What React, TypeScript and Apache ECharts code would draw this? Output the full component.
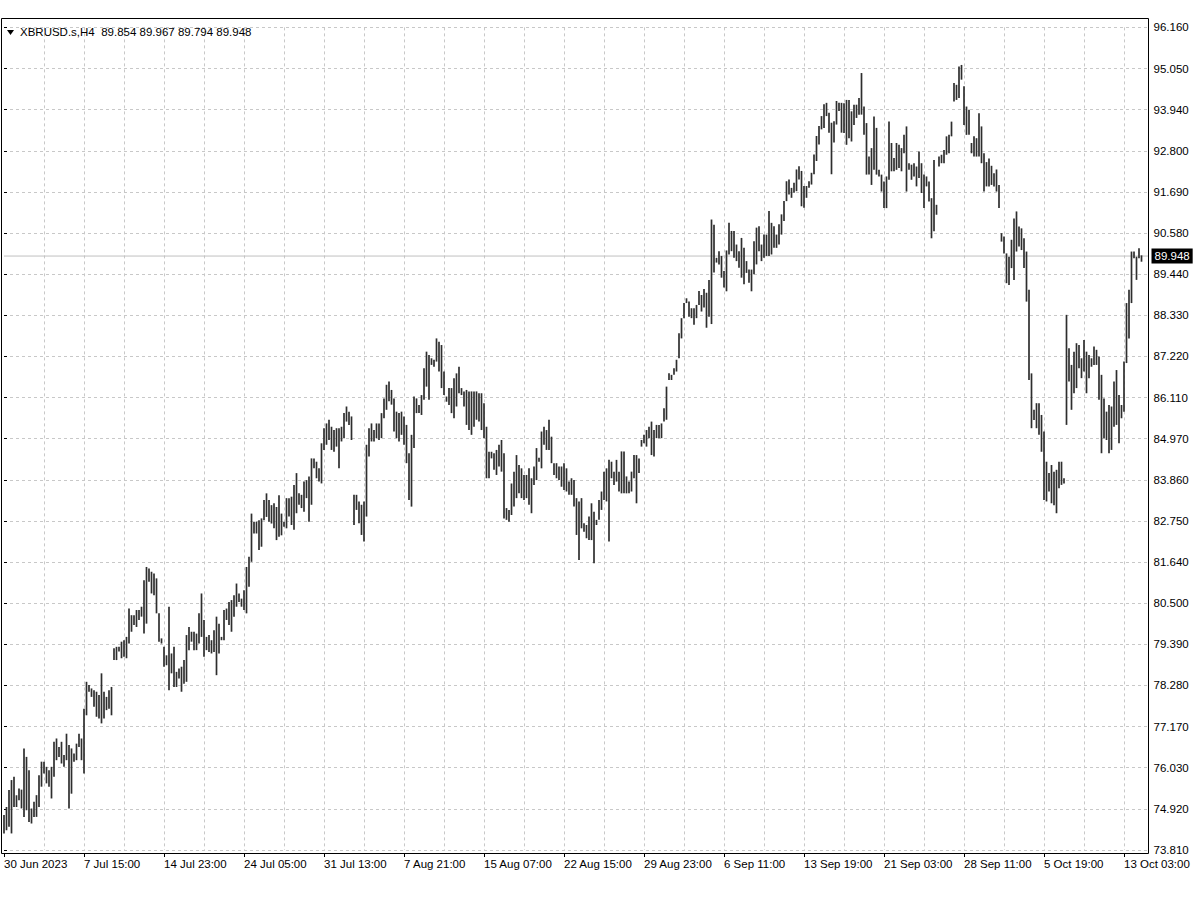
import React, { useEffect, useRef } from 'react';
import * as echarts from 'echarts';

const symbolTitle = 'XBRUSD.s,H4';
const lastOHLC = [89.854, 89.967, 89.794, 89.948];

const priceLabels = [
  '73.810', '74.920', '76.030', '77.170', '78.280', '79.390', '80.500',
  '81.640', '82.750', '83.860', '84.970', '86.110', '87.220', '88.330',
  '89.440', '90.580', '91.690', '92.800', '93.940', '95.050', '96.160',
];
const priceMin = 73.81;
const priceMax = 96.16;

const dateLabels = [
  '30 Jun 2023', '7 Jul 15:00', '14 Jul 23:00', '24 Jul 05:00', '31 Jul 13:00',
  '7 Aug 21:00', '15 Aug 07:00', '22 Aug 15:00', '29 Aug 23:00', '6 Sep 11:00',
  '13 Sep 19:00', '21 Sep 03:00', '28 Sep 11:00', '5 Oct 19:00', '13 Oct 03:00',
];
const barsPerLabel = 32;

// H4 bar highs
const highs: number[] = [
  74.76, 74.98, 75.44, 75.71, 75.80, 75.30, 75.48, 75.45, 76.57, 76.34,
  75.98, 74.94, 75.12, 75.30, 75.84, 76.21, 76.21, 76.07, 75.98, 76.07,
  76.75, 76.84, 76.61, 76.75, 76.39, 76.97, 76.66, 76.57, 76.43, 76.70,
  76.97, 76.84, 77.65, 78.38, 78.29, 78.20, 78.15, 78.11, 78.02, 78.61,
  78.11, 77.97, 78.15, 78.24, 79.29, 79.33, 79.33, 79.47, 79.51, 79.60,
  80.37, 80.19, 80.19, 80.33, 80.33, 80.42, 81.14, 81.50, 81.46, 81.37,
  81.32, 81.19, 80.24, 79.56, 79.33, 79.10, 80.42, 79.15, 79.33, 78.65,
  78.74, 78.79, 78.97, 79.65, 79.87, 79.74, 79.74, 79.69, 80.24, 80.78,
  80.06, 79.60, 79.65, 79.51, 79.78, 80.15, 79.96, 79.60, 80.33, 80.37,
  80.55, 80.60, 80.73, 81.05, 80.78, 80.64, 80.87, 81.50, 81.78, 82.95,
  82.73, 82.73, 82.77, 82.82, 83.32, 83.50, 83.32, 83.18, 83.23, 83.13,
  83.45, 82.95, 82.73, 83.37, 83.37, 83.41, 83.73, 84.05, 83.50, 83.46,
  83.82, 83.86, 83.96, 84.45, 84.45, 84.36, 84.18, 84.86, 85.27, 85.40,
  85.50, 85.31, 85.22, 85.27, 85.27, 85.31, 85.68, 85.86, 85.72, 85.59,
  83.46, 83.46, 83.28, 83.19, 83.28, 84.82, 85.27, 85.40, 85.22, 85.40,
  85.40, 85.68, 86.08, 86.45, 86.54, 86.31, 86.08, 85.72, 85.68, 85.72,
  85.59, 85.36, 84.59, 85.09, 86.13, 86.08, 85.90, 86.17, 86.90, 87.35,
  87.26, 87.17, 87.13, 87.71, 87.62, 87.53, 86.81, 86.13, 86.36, 86.36,
  86.63, 86.76, 86.94, 86.36, 86.27, 86.31, 86.27, 86.27, 86.27, 86.27,
  86.22, 86.22, 85.95, 85.31, 84.63, 84.63, 84.59, 84.68, 84.82, 84.95,
  84.59, 83.10, 83.05, 83.77, 84.09, 84.54, 84.27, 84.18, 84.00, 84.00,
  84.18, 83.91, 84.23, 84.73, 84.47, 85.18, 85.31, 85.22, 85.50, 85.04,
  84.32, 84.32, 84.23, 84.23, 84.32, 84.18, 83.82, 83.91, 83.86, 83.37,
  83.28, 83.37, 82.69, 82.64, 82.87, 83.23, 83.00, 82.78, 83.32, 83.55,
  84.09, 84.18, 84.41, 84.36, 84.09, 84.41, 84.09, 84.64, 84.64, 83.96,
  83.82, 84.09, 84.54, 84.54, 84.45, 84.95, 85.09, 85.22, 85.31, 85.45,
  85.22, 85.36, 85.36, 85.40, 85.81, 86.40, 86.76, 86.72, 86.90, 87.13,
  87.85, 88.26, 88.67, 88.80, 88.71, 88.53, 88.53, 88.62, 89.00, 88.89,
  89.05, 88.95, 89.30, 90.94, 90.80, 89.90, 90.08, 89.95, 89.54, 90.10,
  90.85, 90.63, 90.63, 90.26, 90.08, 90.44, 90.17, 89.81, 89.58, 89.58,
  90.35, 90.72, 90.76, 90.26, 90.53, 90.53, 91.17, 90.85, 90.76, 90.53,
  90.81, 91.08, 91.44, 91.98, 92.03, 91.80, 91.94, 92.30, 92.39, 92.26,
  91.85, 91.85, 91.98, 92.21, 92.71, 93.21, 93.48, 93.75, 94.07, 94.11,
  93.84, 93.57, 93.61, 94.16, 94.11, 94.11, 94.10, 94.19, 94.19, 93.88,
  94.06, 94.06, 94.24, 94.92, 94.01, 93.56, 92.65, 92.88, 93.74, 93.43,
  92.29, 92.16, 91.97, 92.11, 93.60, 93.02, 92.61, 93.02, 92.97, 92.88,
  93.24, 93.47, 92.47, 92.43, 92.47, 92.38, 92.79, 92.47, 92.16, 92.11,
  91.97, 91.52, 92.56, 91.34, 92.65, 92.70, 92.83, 93.20, 93.24, 93.60,
  94.65, 94.60, 95.10, 95.14, 94.56, 94.01, 93.92, 93.02, 93.20, 93.15,
  93.83, 93.47, 92.74, 92.50, 92.60, 92.40, 92.20, 92.30, 91.88, 90.57,
  90.48, 90.02, 89.93, 90.39, 90.97, 91.16, 90.75, 90.70, 90.43, 90.07,
  89.03, 86.76, 85.77, 85.95, 85.95, 85.63, 85.18, 84.36, 84.05, 84.27,
  84.09, 84.14, 84.36, 84.36, 83.91, 88.35, 87.44, 86.99, 87.35, 87.58,
  87.53, 87.17, 87.67, 87.35, 87.26, 87.17, 87.49, 87.40, 87.22, 86.72,
  86.08, 85.72, 85.90, 85.86, 86.54, 86.85, 86.17, 85.90, 87.08, 88.67,
  89.03, 90.07, 90.07, 89.93, 90.16, 89.967,
];

// H4 bar lows
const lows: number[] = [
  74.26, 74.35, 74.44, 74.26, 74.98, 74.98, 75.16, 74.94, 74.71, 74.89,
  74.57, 74.53, 74.71, 74.71, 74.98, 75.53, 75.89, 75.62, 75.53, 75.21,
  75.80, 76.25, 76.34, 76.16, 76.07, 76.25, 74.94, 75.34, 76.21, 76.25,
  76.61, 76.25, 75.89, 77.47, 78.11, 77.97, 77.70, 77.43, 77.38, 77.25,
  77.38, 77.61, 77.65, 77.47, 78.97, 78.97, 79.20, 79.02, 79.06, 79.02,
  79.42, 79.74, 79.92, 79.87, 80.06, 80.15, 79.69, 79.96, 81.10, 80.78,
  80.73, 80.24, 79.47, 79.42, 78.79, 78.83, 78.15, 78.61, 78.24, 78.24,
  78.47, 78.11, 78.33, 78.38, 79.24, 79.47, 79.24, 79.24, 79.42, 79.60,
  79.06, 79.24, 79.19, 79.15, 79.19, 78.56, 79.15, 79.51, 79.51, 80.06,
  79.92, 79.74, 80.15, 80.42, 80.55, 80.42, 80.33, 80.24, 80.96, 81.64,
  82.41, 82.41, 81.96, 82.05, 82.77, 82.86, 82.73, 82.68, 82.55, 82.23,
  82.32, 82.36, 82.59, 82.55, 82.87, 82.64, 82.51, 82.96, 83.19, 83.10,
  83.00, 83.37, 82.73, 83.19, 84.18, 83.91, 83.82, 83.77, 84.68, 84.82,
  84.95, 84.68, 84.63, 84.77, 84.18, 84.91, 85.00, 85.45, 85.36, 84.95,
  82.64, 83.05, 82.69, 82.37, 82.19, 82.87, 84.50, 84.91, 84.91, 85.00,
  84.95, 85.00, 85.54, 85.77, 86.00, 85.91, 85.18, 85.00, 84.91, 85.09,
  84.82, 84.32, 83.32, 83.14, 84.73, 85.68, 85.68, 85.63, 86.04, 86.40,
  86.04, 86.99, 86.94, 87.08, 86.81, 86.36, 86.17, 85.99, 85.90, 85.68,
  85.54, 85.86, 86.22, 86.17, 85.86, 85.36, 85.22, 85.09, 85.31, 85.50,
  85.45, 85.22, 85.00, 83.91, 83.91, 84.45, 84.14, 84.00, 84.23, 84.09,
  82.82, 82.78, 82.73, 82.91, 83.14, 83.37, 83.50, 83.37, 83.32, 83.37,
  83.19, 82.96, 83.73, 83.86, 84.36, 84.18, 84.82, 84.68, 84.68, 84.32,
  84.00, 83.91, 83.86, 83.68, 83.59, 83.55, 83.46, 83.46, 83.14, 82.37,
  81.69, 82.55, 82.46, 82.28, 82.23, 82.23, 81.60, 82.64, 82.78, 83.05,
  83.32, 83.28, 82.19, 83.91, 83.73, 83.82, 83.55, 83.50, 83.50, 83.50,
  83.50, 83.55, 83.91, 83.23, 84.05, 84.77, 84.86, 84.77, 85.00, 84.54,
  84.50, 85.00, 85.00, 85.00, 85.45, 85.50, 86.58, 86.58, 86.72, 86.81,
  87.17, 87.71, 88.26, 88.67, 88.30, 88.26, 88.08, 88.26, 88.62, 88.44,
  88.55, 88.00, 88.30, 88.10, 89.50, 89.77, 89.72, 89.36, 89.09, 88.99,
  89.99, 90.08, 89.90, 89.81, 89.63, 89.36, 89.18, 89.49, 89.22, 88.99,
  89.45, 89.72, 90.08, 89.81, 89.90, 89.95, 89.95, 89.99, 90.17, 90.17,
  90.26, 90.53, 90.90, 91.44, 91.62, 91.53, 91.67, 91.71, 92.03, 91.30,
  91.26, 91.53, 91.80, 91.89, 92.17, 92.53, 92.98, 93.39, 93.43, 93.75,
  93.30, 92.17, 93.03, 93.52, 93.89, 93.30, 93.29, 92.97, 93.15, 93.06,
  93.51, 93.70, 93.79, 93.79, 93.24, 92.16, 92.16, 91.88, 92.29, 92.16,
  92.11, 91.70, 91.25, 91.25, 92.02, 92.25, 92.25, 92.29, 92.34, 92.25,
  92.74, 91.70, 92.29, 92.02, 92.11, 91.84, 92.07, 91.66, 91.25, 91.84,
  91.43, 90.43, 90.62, 91.07, 92.38, 92.47, 92.47, 92.70, 92.74, 93.20,
  94.15, 94.19, 94.24, 94.74, 93.51, 93.24, 93.24, 92.74, 92.65, 92.65,
  92.65, 92.47, 91.70, 91.84, 91.84, 91.88, 91.84, 91.70, 91.25, 90.34,
  90.02, 89.21, 89.16, 89.62, 89.30, 90.07, 90.21, 90.11, 89.62, 88.71,
  86.58, 85.27, 85.49, 85.27, 85.09, 84.63, 83.32, 83.28, 83.55, 83.23,
  83.18, 82.96, 83.64, 83.73, 83.77, 85.36, 86.54, 85.77, 86.22, 86.36,
  86.90, 86.63, 86.81, 86.22, 86.63, 86.94, 86.99, 86.99, 86.04, 84.59,
  85.00, 84.95, 84.59, 84.68, 85.31, 85.36, 84.86, 85.54, 85.72, 87.04,
  87.71, 88.67, 89.89, 89.30, 89.89, 89.794,
];

const FONT = '"Liberation Sans", Arial, sans-serif';
const FONT_SIZE = 11.5;

export default function App() {
  const ref = useRef<HTMLDivElement>(null);

  useEffect(() => {
    if (!ref.current) return;
    const chart = echarts.init(ref.current, null, { renderer: 'svg' });

    const plotLeft = 4;
    const plotRight = 1148.5;
    const barStep = 2.5;
    const xMax = (plotRight - plotLeft) / barStep;
    const gridTop = 27.4;
    const gridBottom = 850;

    const bars = highs.map((h, i) => [i, h, lows[i]]);
    const labelTicks = dateLabels.map((_, k) => k * barsPerLabel);
    const gridColor = '#c8c8c8';

    chart.setOption({
      animation: false,
      backgroundColor: '#ffffff',
      grid: {
        left: plotLeft,
        right: 1200 - plotRight,
        top: gridTop,
        bottom: 900 - gridBottom,
        containLabel: false,
        outerBoundsMode: 'none',
      },
      xAxis: [
        {
          type: 'value',
          min: 0,
          max: xMax,
          interval: 16,
          axisLine: { show: false },
          axisTick: { show: false },
          axisLabel: { show: false },
          splitLine: { show: true, showMinLine: false, showMaxLine: false, lineStyle: { color: gridColor, type: [3, 3], width: 1 } },
        },
        {
          type: 'value',
          min: 0,
          max: xMax,
          position: 'bottom',
          offset: 3,
          axisLine: { show: false },
          axisTick: { show: true, length: 4, customValues: labelTicks, lineStyle: { color: '#000', width: 1 } },
          axisLabel: {
            show: true,
            customValues: labelTicks,
            formatter: (v: number) => dateLabels[Math.round(v / barsPerLabel)] ?? '',
            align: 'left',
            margin: 5,
            color: '#000',
            fontSize: FONT_SIZE,
            fontFamily: FONT,
          },
          splitLine: { show: false },
        },
      ],
      yAxis: [
        {
          type: 'value',
          min: priceMin,
          max: priceMax,
          show: false,
        },
        {
          type: 'value',
          min: 0,
          max: priceLabels.length - 1,
          interval: 1,
          position: 'right',
          axisLine: { show: false },
          axisTick: { show: true, length: 3, lineStyle: { color: '#000' } },
          axisLabel: {
            formatter: (v: number) => priceLabels[Math.round(v)] ?? '',
            margin: 5,
            color: '#000',
            fontSize: FONT_SIZE,
            fontFamily: FONT,
            align: 'left',
          },
          splitLine: { show: true, lineStyle: { color: gridColor, type: [3, 3], width: 1 } },
        },
      ],
      series: [
        {
          type: 'custom',
          xAxisIndex: 0,
          yAxisIndex: 0,
          encode: { x: 0, y: [1, 2] },
          data: bars,
          clip: false,
          renderItem: (params: any, api: any) => {
            const i = api.value(0);
            const top = api.coord([i, api.value(1)]);
            const bot = api.coord([i, api.value(2)]);
            const h = Math.max(1, bot[1] - top[1]);
            return {
              type: 'rect',
              shape: { x: top[0] - 0.85, y: top[1], width: 1.7, height: h },
              style: { fill: '#2e2e2e' },
            };
          },
          z: 3,
        },
        {
          type: 'line',
          xAxisIndex: 0,
          yAxisIndex: 0,
          data: [[0, lastOHLC[3]], [xMax, lastOHLC[3]]],
          symbol: 'none',
          silent: true,
          lineStyle: { color: '#c0c0c0', width: 1 },
          z: 2,
          endLabel: {
            show: true,
            formatter: () => lastOHLC[3].toFixed(3),
            backgroundColor: '#000',
            color: '#fff',
            fontSize: FONT_SIZE,
            fontFamily: FONT,
            padding: [2, 3, 1, 3],
            distance: 3,
          },
        },
      ],
      graphic: [
        {
          type: 'rect',
          shape: { x: 1.5, y: 18.5, width: plotRight - 1.5, height: 853.5 - 18.5 },
          style: { fill: 'none', stroke: '#000', lineWidth: 1 },
          silent: true,
          z: 10,
        },
        {
          type: 'polygon',
          shape: { points: [[7, 30], [14, 30], [10.5, 35]] },
          style: { fill: '#000' },
          z: 10,
        },
        {
          type: 'text',
          x: 20,
          y: 26,
          style: {
            text: `${symbolTitle}  ${lastOHLC.map((v) => v.toFixed(3)).join(' ')}`,
            fill: '#000',
            font: `${FONT_SIZE}px ${FONT}`,
          },
          z: 10,
        },
      ],
    });

    return () => chart.dispose();
  }, []);

  return (
    <div
      ref={ref}
      style={{ position: 'fixed', left: 0, top: 0, width: 1200, height: 900 }}
    />
  );
}
